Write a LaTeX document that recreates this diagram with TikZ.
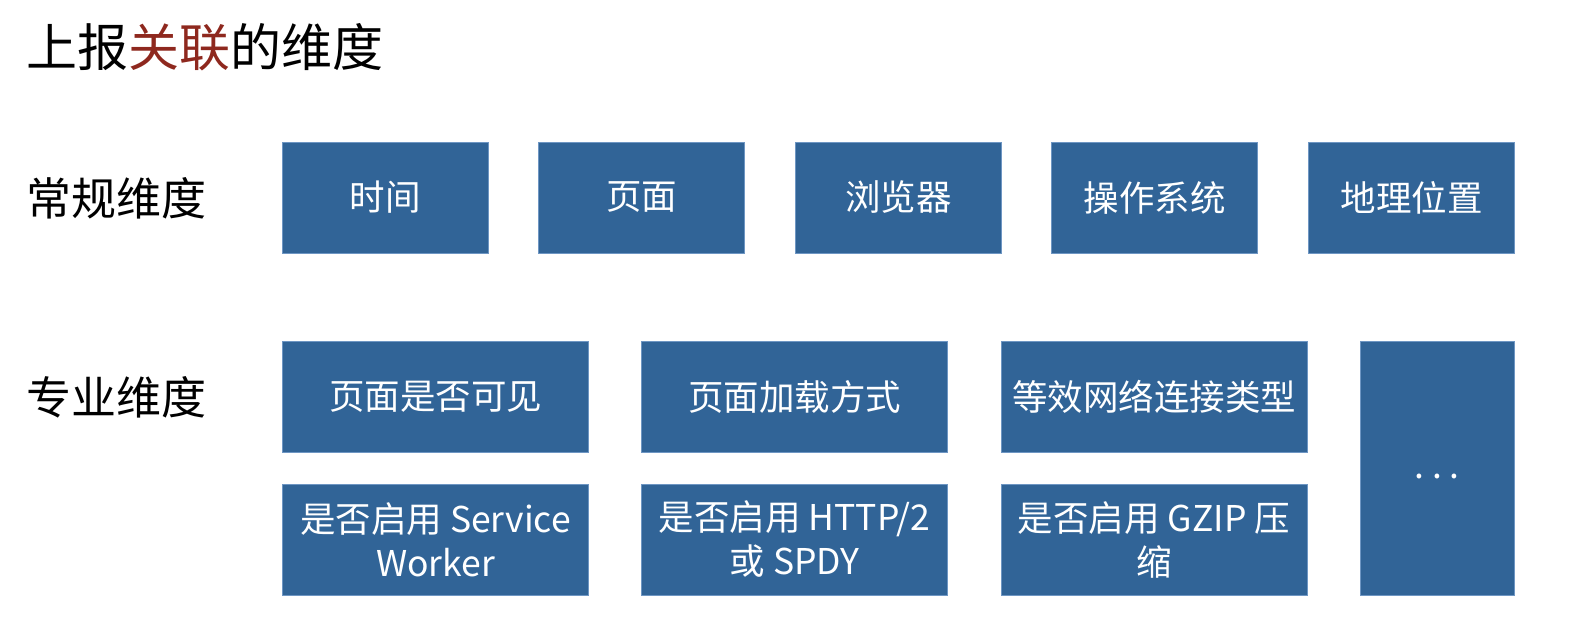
\documentclass[tikz,border=0pt]{standalone}
\usepackage{fontspec}
\setmainfont{Noto Sans CJK SC}
\definecolor{boxblue}{RGB}{49,100,151}
\definecolor{boxedge}{RGB}{110,150,195}
\definecolor{hlred}{RGB}{142,40,30}
\begin{document}
\begin{tikzpicture}[x=1pt,y=-1pt,
  dimbox/.style={rectangle, fill=boxblue, draw=boxedge, line width=0.6pt, inner sep=0pt, outer sep=0pt,
    text=white, align=center, font=\fontsize{35.5}{44}\selectfont},
  small/.style={dimbox, minimum width=206pt, minimum height=111pt},
  wide/.style={dimbox, minimum width=306pt, minimum height=111pt},
  rowlabel/.style={anchor=west, inner sep=0pt, font=\fontsize{45}{50}\selectfont}]
\useasboundingbox (0,0) rectangle (1592,634);
\node[anchor=west, inner sep=0pt, font=\fontsize{51}{60}\selectfont] (title) at (26,47) {上报\textcolor{hlred}{关联}的维度};
\node[rowlabel] (lab1) at (26,198) {常规维度};
\node[rowlabel] (lab2) at (26,397) {专业维度};
\node[small] (a1) at (385,197.5) {时间};
\node[small] (a2) at (641.5,197.5) {页面};
\node[small] (a3) at (898.5,197.5) {浏览器};
\node[small] (a4) at (1154.5,197.5) {操作系统};
\node[small] (a5) at (1411.5,197.5) {地理位置};
\node[wide] (b1) at (435.5,396.5) {页面是否可见};
\node[wide] (b2) at (794.5,396.5) {页面加载方式};
\node[wide] (b3) at (1154,396.5) {等效网络连接类型};
\node[wide] (c1) at (435.5,539.5) {是否启用 Service\\Worker};
\node[wide] (c2) at (794.5,539.5) {是否启用 HTTP/2\\或 SPDY};
\node[wide] (c3) at (1154,539.5) {是否启用 GZIP 压\\缩};
\node[dimbox, minimum width=154pt, minimum height=254pt] (d1) at (1437,468) {};
\node[text=white, inner sep=0pt, font=\fontsize{35.5}{44}\selectfont, anchor=base] (dots) at ([yshift=-10pt]d1.center) {.\hspace{8pt}.\hspace{8pt}.};
\end{tikzpicture}
\end{document}
